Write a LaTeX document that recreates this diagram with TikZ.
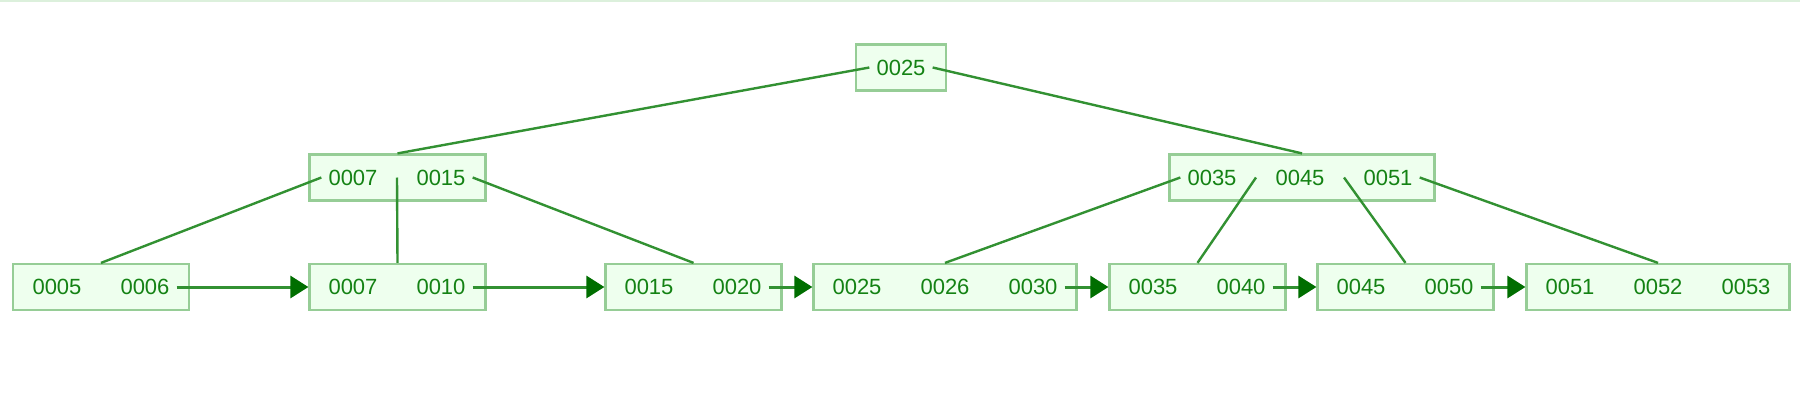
\documentclass[tikz,border=0pt]{standalone}
\usepackage{fontspec}
\setmainfont{Liberation Sans}
\usepackage{tikz}
\usetikzlibrary{calc}
\usetikzlibrary{arrows.meta}
\definecolor{boxfill}{RGB}{238,255,238}
\definecolor{boxcol}{RGB}{150,205,150}
\definecolor{linkcol}{RGB}{50,145,50}
\definecolor{keycol}{RGB}{20,130,20}
\definecolor{arrcol}{RGB}{0,110,0}
\definecolor{topcol}{RGB}{220,240,220}
\tikzset{keybox/.style={draw=boxcol,fill=boxfill,line width=2.2pt,minimum height=46pt,inner sep=0pt}}
\tikzset{key/.style={text=keycol,font=\fontsize{22}{26}\selectfont,inner xsep=7pt,inner ysep=2pt}}
\tikzset{link/.style={draw=linkcol,line width=2.4pt}}
\tikzset{nextleaf/.style={draw=linkcol,line width=3pt,-{Triangle[length=18pt,width=22pt,color=arrcol]}}}

\begin{document}
\begin{tikzpicture}[x=1pt,y=-1pt]
                    \useasboundingbox (0,0) rectangle (1800,418);
                    \fill[topcol] (0,0) rectangle (1800,2);

                    % root
                    \node[keybox,minimum width=90pt] (root) at (901,67.5) {};
                    \node[key] (r1) at (901,67.5) {0025};

                    % inner level
                    \node[keybox,minimum width=176pt] (i1) at (397.5,177.5) {};
                    \node[key] (i1a) at (353,177.5) {0007};
                    \node[key] (i1b) at (441,177.5) {0015};
                    \node[keybox,minimum width=265pt] (i2) at (1302,177.5) {};
                    \node[key] (i2a) at (1212,177.5) {0035};
                    \node[key] (i2b) at (1300,177.5) {0045};
                    \node[key] (i2c) at (1388,177.5) {0051};

                    % leaves
                    \node[keybox,minimum width=176pt] (l1) at (101,287) {};
                    \node[key] (l1a) at (57,287) {0005};
                    \node[key] (l1b) at (145,287) {0006};
                    \node[keybox,minimum width=176pt] (l2) at (397.5,287) {};
                    \node[key] (l2a) at (353,287) {0007};
                    \node[key] (l2b) at (441,287) {0010};
                    \node[keybox,minimum width=176pt] (l3) at (693.5,287) {};
                    \node[key] (l3a) at (649,287) {0015};
                    \node[key] (l3b) at (737,287) {0020};
                    \node[keybox,minimum width=263pt] (l4) at (945,287) {};
                    \node[key] (l4a) at (857,287) {0025};
                    \node[key] (l4b) at (945,287) {0026};
                    \node[key] (l4c) at (1033,287) {0030};
                    \node[keybox,minimum width=176pt] (l5) at (1197.5,287) {};
                    \node[key] (l5a) at (1153,287) {0035};
                    \node[key] (l5b) at (1241,287) {0040};
                    \node[keybox,minimum width=176pt] (l6) at (1405.5,287) {};
                    \node[key] (l6a) at (1361,287) {0045};
                    \node[key] (l6b) at (1449,287) {0050};
                    \node[keybox,minimum width=263pt] (l7) at (1658,287) {};
                    \node[key] (l7a) at (1570,287) {0051};
                    \node[key] (l7b) at (1658,287) {0052};
                    \node[key] (l7c) at (1746,287) {0053};

                    % child pointers
                    \draw[link] (r1.west) -- (i1.north);
                    \draw[link] (r1.east) -- (i2.north);
                    \draw[link] (i1a.west) -- (l1.north);
                    \draw[link] ($(i1a.east)!.5!(i1b.west)$) -- (l2.north);
                    \draw[link] (i1b.east) -- (l3.north);
                    \draw[link] (i2a.west) -- (l4.north);
                    \draw[link] ($(i2a.east)!.5!(i2b.west)$) -- (l5.north);
                    \draw[link] ($(i2b.east)!.5!(i2c.west)$) -- (l6.north);
                    \draw[link] (i2c.east) -- (l7.north);

                    % leaf chain
                    \draw[nextleaf] (l1b.east) -- (l2.west);
                    \draw[nextleaf] (l2b.east) -- (l3.west);
                    \draw[nextleaf] (l3b.east) -- (l4.west);
                    \draw[nextleaf] (l4c.east) -- (l5.west);
                    \draw[nextleaf] (l5b.east) -- (l6.west);
                    \draw[nextleaf] (l6b.east) -- (l7.west);
                \end{tikzpicture}
\end{document}
